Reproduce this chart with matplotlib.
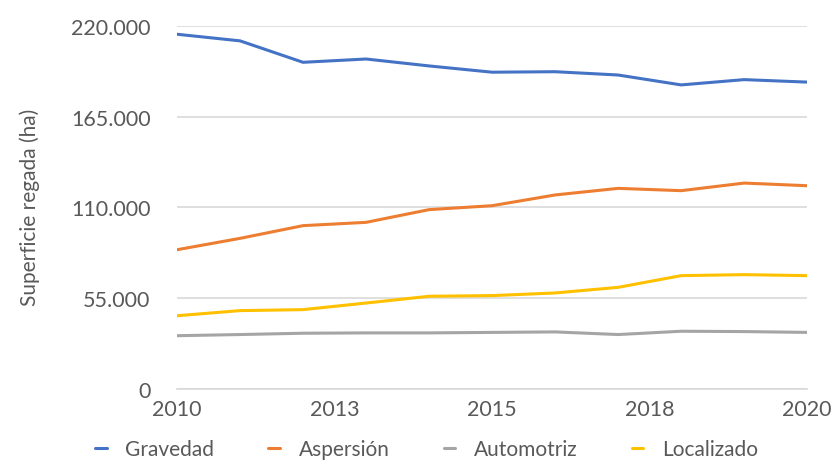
import matplotlib
matplotlib.use("Agg")
import matplotlib.pyplot as plt

# ---------------------------------------------------------------------------
# Data (ha per year)
# ---------------------------------------------------------------------------
years = [2010, 2011, 2012, 2013, 2014, 2015, 2016, 2017, 2018, 2019, 2020]

gravedad = [215000, 211000, 198000, 200000, 195800, 192000, 192300, 190300, 184300, 187500, 186000]
aspersion = [84400, 91300, 99000, 101000, 108700, 111100, 117600, 121600, 120200, 124800, 123200]
automotriz = [32300, 33000, 33800, 34000, 34000, 34300, 34600, 33000, 35000, 34800, 34300]
localizado = [44400, 47500, 48100, 52100, 56200, 56600, 58200, 61600, 68700, 69300, 68700]

series_names = ["Gravedad", "Aspersión", "Automotriz", "Localizado"]
series_colors = ["#4472C4", "#ED7D31", "#A5A5A5", "#FFC000"]

y_ticks = [0, 55000, 110000, 165000, 220000]
y_labels = ["0", "55.000", "110.000", "165.000", "220.000"]
x_ticks = [2010, 2012.5, 2015, 2017.5, 2020]
x_labels = ["2010", "2013", "2015", "2018", "2020"]

TEXT = "#595959"
plt.rcParams["font.family"] = ["Lato", "DejaVu Sans"]

fig = plt.figure(figsize=(8.33, 4.64), dpi=100)
ax = fig.add_axes([0.2125, 0.1595, 0.7565, 0.7823])

for vals, name, col in zip([gravedad, aspersion, automotriz, localizado],
                           series_names, series_colors):
    ax.plot(years, vals, color=col, lw=2.2, label=name, solid_capstyle="round")

ax.set_xlim(2010, 2020)
ax.set_ylim(0, 220000)
ax.set_yticks(y_ticks)
ax.set_yticklabels(y_labels)
ax.set_xticks(x_ticks)
ax.set_xticklabels(x_labels)
ax.tick_params(axis="both", length=0, colors=TEXT, labelsize=15.5)
ax.tick_params(axis="y", pad=19)
ax.tick_params(axis="x", pad=7)

ax.grid(axis="y", color="#D9D9D9", lw=1.2)
ax.set_axisbelow(True)
for side in ["top", "right", "left"]:
    ax.spines[side].set_visible(False)
ax.spines["bottom"].set_color("#D9D9D9")
ax.spines["bottom"].set_linewidth(1.2)

ax.set_ylabel("Superficie regada (ha)", color=TEXT, fontsize=15)
ax.yaxis.set_label_coords(-0.218, 0.504)

fig.legend(*ax.get_legend_handles_labels(), loc="center",
           bbox_to_anchor=(0.512, 0.03), ncol=4, frameon=False,
           fontsize=15, labelcolor=TEXT, borderpad=0,
           handlelength=0.55, handletextpad=0.9, columnspacing=2.6)

fig.savefig("out.png", dpi=100)
